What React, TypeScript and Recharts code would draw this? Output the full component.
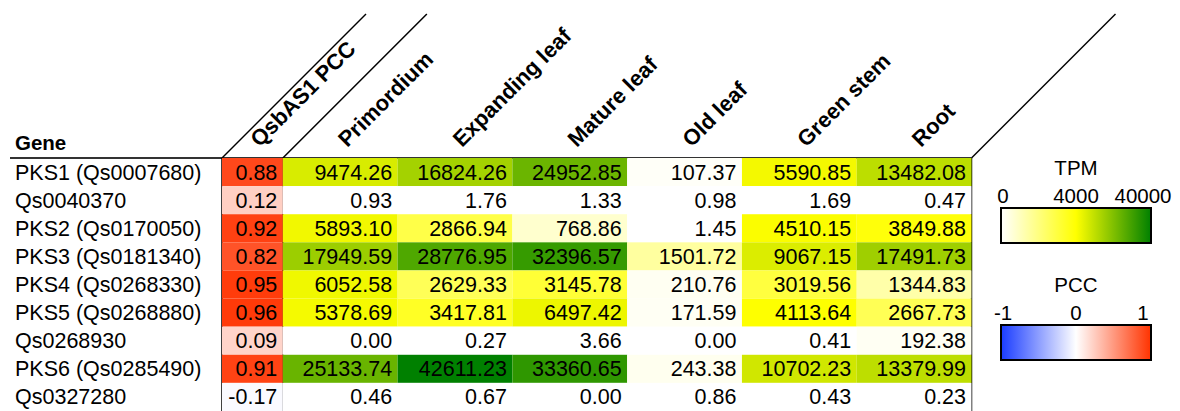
import React from 'react';
import { ScatterChart, Scatter, XAxis, YAxis, ReferenceLine } from 'recharts';

// ---------- data ----------
const genes = [
  'PKS1 (Qs0007680)',
  'Qs0040370',
  'PKS2 (Qs0170050)',
  'PKS3 (Qs0181340)',
  'PKS4 (Qs0268330)',
  'PKS5 (Qs0268880)',
  'Qs0268930',
  'PKS6 (Qs0285490)',
  'Qs0327280',
];
const pccLabel = 'QsbAS1 PCC';
const pcc = [0.88, 0.12, 0.92, 0.82, 0.95, 0.96, 0.09, 0.91, -0.17];
const tissues = ['Primordium', 'Expanding leaf', 'Mature leaf', 'Old leaf', 'Green stem', 'Root'];
const primordium = [9474.26, 0.93, 5893.1, 17949.59, 6052.58, 5378.69, 0.0, 25133.74, 0.46];
const expandingLeaf = [16824.26, 1.76, 2866.94, 28776.95, 2629.33, 3417.81, 0.27, 42611.23, 0.67];
const matureLeaf = [24952.85, 1.33, 768.86, 32396.57, 3145.78, 6497.42, 3.66, 33360.65, 0.0];
const oldLeaf = [107.37, 0.98, 1.45, 1501.72, 210.76, 171.59, 0.0, 243.38, 0.86];
const greenStem = [5590.85, 1.69, 4510.15, 9067.15, 3019.56, 4113.64, 0.41, 10702.23, 0.43];
const root = [13482.08, 0.47, 3849.88, 17491.73, 1344.83, 2667.73, 192.38, 13379.99, 0.23];
const tpmColumns = [primordium, expandingLeaf, matureLeaf, oldLeaf, greenStem, root];
const tpmTicks = ['0', '4000', '40000'];
const pccTicks = ['-1', '0', '1'];

// ---------- layout ----------
const W = 1180;
const H = 411;
const FONT = '"Liberation Sans", Arial, Helvetica, sans-serif';
const M_LEFT = 10;
const Y_AXIS_W = 212;
const M_TOP = 8;
const X_AXIS_H = 150;
const M_RIGHT = 208.5;
const PCC_UNITS = 0.53;
const X_SPAN = PCC_UNITS + tissues.length;
const PLOT_W = W - M_LEFT - Y_AXIS_W - M_RIGHT;
const PLOT_H = H - M_TOP - X_AXIS_H;
const PX_X = PLOT_W / X_SPAN;
const PX_Y = PLOT_H / genes.length;
const DIAG_PX = 144;
const HEADER_BASE = 148;
const BODY_FS = 21.5;

// ---------- colour scales ----------
const mix = (a: number[], b: number[], t: number) => {
  const c = a.map((v, i) => Math.round(v + (b[i] - v) * Math.max(0, Math.min(1, t))));
  return `rgb(${c[0]},${c[1]},${c[2]})`;
};
const WHITE = [255, 255, 255];
const YELLOW = [255, 255, 0];
const GREEN = [0, 128, 0];
const RED = [255, 51, 0];
const BLUE = [26, 60, 255];
const tpmColor = (v: number) =>
  v <= 4000 ? mix(WHITE, YELLOW, v / 4000) : mix(YELLOW, GREEN, (v - 4000) / 36000);
const PCC_MID = -0.15;
const pccColor = (v: number) =>
  v >= PCC_MID ? mix(WHITE, RED, (v - PCC_MID) / (1 - PCC_MID)) : mix(WHITE, BLUE, (PCC_MID - v) / (1 + PCC_MID));

// ---------- derived table ----------
const colCenters = [PCC_UNITS / 2, ...tissues.map((_, i) => PCC_UNITS + i + 0.5)];
const colNames = [pccLabel, ...tissues];
const rowCenters = genes.map((_, i) => i + 0.5);

type CellDatum = { x: number; y: number; w: number; fill: string; label: string };
const cells: CellDatum[] = [];
genes.forEach((_, r) => {
  cells.push({ x: colCenters[0], y: rowCenters[r], w: PCC_UNITS, fill: pccColor(pcc[r]), label: pcc[r].toFixed(2) });
  tpmColumns.forEach((col, c) => {
    cells.push({ x: colCenters[c + 1], y: rowCenters[r], w: 1, fill: tpmColor(col[r]), label: col[r].toFixed(2) });
  });
});

const CellShape = (props: any) => {
  const { cx, cy, payload } = props;
  const w = payload.w * PX_X;
  const h = PX_Y;
  return (
    <g>
      <rect x={cx - w / 2} y={cy - h / 2} width={w} height={h} fill={payload.fill} />
      <text x={cx + w / 2 - 5.5} y={cy + 7.5} textAnchor="end" fontSize={BODY_FS} fontFamily={FONT} fill="#000">
        {payload.label}
      </text>
    </g>
  );
};

const HeaderTick = (props: any) => {
  const { x, payload } = props;
  let idx = 0;
  let best = Infinity;
  colCenters.forEach((c, i) => {
    if (Math.abs(c - payload.value) < best) {
      best = Math.abs(c - payload.value);
      idx = i;
    }
  });
  const ax = x + 7;
  return (
    <text
      x={ax}
      y={HEADER_BASE}
      transform={`rotate(-45 ${ax} ${HEADER_BASE})`}
      textAnchor="start"
      fontSize={22}
      fontWeight="bold"
      fontFamily={FONT}
      fill="#000"
    >
      {colNames[idx]}
    </text>
  );
};

const GeneTick = (props: any) => {
  const { y, payload } = props;
  const idx = Math.floor(payload.value);
  return (
    <text x={15} y={y + 7.5} textAnchor="start" fontSize={BODY_FS} fontFamily={FONT} fill="#000">
      {genes[idx]}
    </text>
  );
};

const diagUnitsX = DIAG_PX / PX_X;
const diagUnitsY = DIAG_PX / PX_Y;
const diagStarts = [0, PCC_UNITS, X_SPAN];

const ColorBar = ({ id, title, ticks, y, stops }: { id: string; title: string; ticks: string[]; y: number; stops: string[] }) => {
  const bx = 1001;
  const bw = 150;
  return (
    <g fontFamily={FONT} fill="#000">
      <defs>
        <linearGradient id={id} x1="0" x2="1" y1="0" y2="0">
          {stops.map((s, i) => (
            <stop key={i} offset={i / (stops.length - 1)} stopColor={s} />
          ))}
        </linearGradient>
      </defs>
      <text x={bx + bw / 2} y={y} textAnchor="middle" fontSize={20.5}>
        {title}
      </text>
      {ticks.map((t, i) => (
        <text key={t} x={bx + 2 + (i * (bw - 4)) / (ticks.length - 1) - (i === 2 ? 6 : 0)} y={y + 28} textAnchor="middle" fontSize={20.5}>
          {t}
        </text>
      ))}
      <rect x={bx} y={y + 33} width={bw} height={35} fill={`url(#${id})`} stroke="#000" strokeWidth={2} />
    </g>
  );
};

export default function App() {
  return (
    <div style={{ position: 'absolute', left: 0, top: 0, width: W, height: H, background: '#fff' }}>
      <ScatterChart width={W} height={H} margin={{ top: M_TOP, right: M_RIGHT, bottom: 0, left: M_LEFT }}>
        <XAxis
          type="number"
          dataKey="x"
          domain={[0, X_SPAN]}
          orientation="top"
          height={X_AXIS_H}
          ticks={colCenters}
          interval={0}
          axisLine={false}
          tickLine={false}
          tick={<HeaderTick />}
        />
        <YAxis
          type="number"
          dataKey="y"
          domain={[0, genes.length]}
          reversed
          width={Y_AXIS_W}
          ticks={rowCenters}
          interval={0}
          axisLine={false}
          tickLine={false}
          tick={<GeneTick />}
        />
        <Scatter data={cells} shape={<CellShape />} isAnimationActive={false} />
        <ReferenceLine
          segment={[{ x: -Y_AXIS_W / PX_X, y: 0 }, { x: X_SPAN, y: 0 }]}
          stroke="#333"
          strokeWidth={2}
          ifOverflow="visible"
        />
        {diagStarts.map((x0) => (
          <ReferenceLine
            key={`v${x0}`}
            segment={[{ x: x0, y: 0 }, { x: x0, y: genes.length }]}
            stroke="#000"
            strokeWidth={1.5}
            ifOverflow="visible"
          />
        ))}
        {diagStarts.map((x0) => (
          <ReferenceLine
            key={`d${x0}`}
            segment={[{ x: x0, y: 0 }, { x: x0 + diagUnitsX, y: -diagUnitsY }]}
            stroke="#000"
            strokeWidth={1.5}
            ifOverflow="visible"
          />
        ))}
      </ScatterChart>
      <svg width={W} height={H} style={{ position: 'absolute', left: 0, top: 0, pointerEvents: 'none' }}>
        <text x={15} y={150} fontSize={20.5} fontWeight="bold" fontFamily={FONT} fill="#000">
          Gene
        </text>
        <ColorBar id="tpmGrad" title="TPM" ticks={tpmTicks} y={175} stops={['#ffffff', '#ffff00', '#008000']} />
        <ColorBar id="pccGrad" title="PCC" ticks={pccTicks} y={292} stops={['#1a3cff', '#ffffff', '#ff3300']} />
      </svg>
    </div>
  );
}
